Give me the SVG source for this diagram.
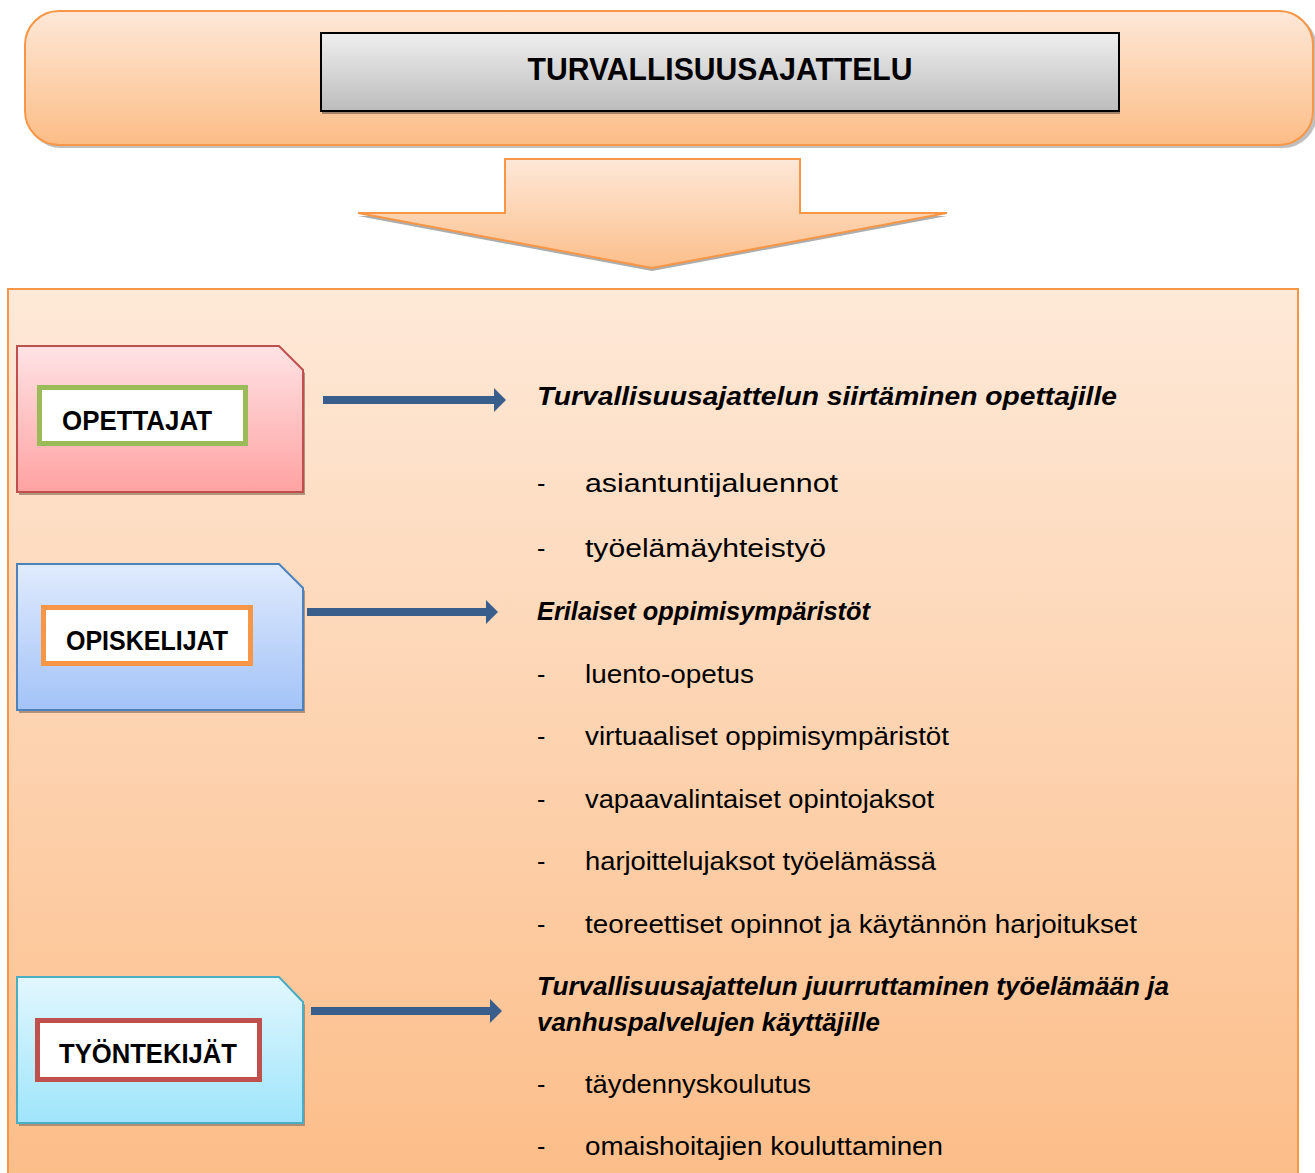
<svg xmlns="http://www.w3.org/2000/svg" width="1315" height="1173" viewBox="0 0 1315 1173">
<defs>
<linearGradient id="gOrange" x1="0" y1="0" x2="0" y2="1"><stop offset="0" stop-color="#fee8d8"/><stop offset="1" stop-color="#fcbd86"/></linearGradient>
<linearGradient id="gPanel" x1="0" y1="0" x2="0" y2="1"><stop offset="0" stop-color="#fee9d8"/><stop offset="1" stop-color="#fcbd88"/></linearGradient>
<linearGradient id="gArrow" x1="0" y1="0" x2="0" y2="1"><stop offset="0" stop-color="#fee8d8"/><stop offset="1" stop-color="#fcbf8b"/></linearGradient>
<linearGradient id="gGrey" x1="0" y1="0" x2="0" y2="1"><stop offset="0" stop-color="#efefef"/><stop offset="1" stop-color="#bcbcbc"/></linearGradient>
<linearGradient id="gRed" x1="0" y1="0" x2="0" y2="1"><stop offset="0" stop-color="#ffe3e5"/><stop offset="1" stop-color="#ffa2a2"/></linearGradient>
<linearGradient id="gBlue" x1="0" y1="0" x2="0" y2="1"><stop offset="0" stop-color="#e0ebfd"/><stop offset="1" stop-color="#a3c3f8"/></linearGradient>
<linearGradient id="gCyan" x1="0" y1="0" x2="0" y2="1"><stop offset="0" stop-color="#e2f7fe"/><stop offset="1" stop-color="#9fe5fb"/></linearGradient>
<marker id="ah" markerUnits="userSpaceOnUse" markerWidth="12" markerHeight="24" refX="0" refY="12" orient="auto"><path d="M0,0 L12,12 L0,24 Z" fill="#3a5e8c"/></marker>
</defs>
<style>
text{font-family:"Liberation Sans",Arial,sans-serif;fill:#000}
.b{font-weight:bold}
.bi{font-weight:bold;font-style:italic;font-size:25px}
.r{font-size:25px}
.sh{fill:#8a8a8a;opacity:0.55}
.conn{stroke:#3a5e8c;stroke-width:8;fill:none}
</style>
<g id="top">
<rect x="27" y="14" width="1290" height="134" rx="34" class="sh"/>
<rect x="25" y="11" width="1288" height="134" rx="34" fill="url(#gOrange)" stroke="#f79646" stroke-width="2"/>
</g>
<g id="title">
<rect x="322" y="36" width="798" height="78" fill="#a0846a"/>
<rect x="321" y="33" width="798" height="78" fill="url(#gGrey)" stroke="#000" stroke-width="2"/>
<text x="720" y="80" class="b" font-size="31" text-anchor="middle" textLength="385" lengthAdjust="spacingAndGlyphs">TURVALLISUUSAJATTELU</text>
</g>
<g id="downarrow">
<path d="M505,162 L800,162 L800,216 L947,216 L652,271 L358,216 L505,216 Z" fill="#999" opacity="0.8"/>
<path d="M505,159 L800,159 L800,213 L947,213 L652,268 L358,213 L505,213 Z" fill="url(#gArrow)" stroke="#f79646" stroke-width="2"/>
</g>
<g id="panel">
<rect x="8" y="289" width="1290" height="900" fill="url(#gPanel)" stroke="#f79646" stroke-width="2"/>
</g>
<g id="opettajat">
<path d="M19,349 L279,349 L305,373 L305,495 L19,495 Z" fill="#9a7f6a" opacity="0.8"/>
<path d="M17,346 L279,346 L303,370 L303,492 L17,492 Z" fill="url(#gRed)" stroke="#c0504d" stroke-width="2"/>
<rect x="39.5" y="387.5" width="206" height="56" fill="#fff" stroke="#9bbb59" stroke-width="5"/>
<text x="62" y="430" class="b" font-size="27" textLength="150" lengthAdjust="spacingAndGlyphs">OPETTAJAT</text>
</g>
<g id="opiskelijat">
<path d="M19,567 L279,567 L305,591 L305,713 L19,713 Z" fill="#9a7f6a" opacity="0.8"/>
<path d="M17,564 L279,564 L303,588 L303,710 L17,710 Z" fill="url(#gBlue)" stroke="#4f81bd" stroke-width="2"/>
<rect x="43.5" y="607.5" width="207" height="56" fill="#fff" stroke="#f79646" stroke-width="5"/>
<text x="66" y="650" class="b" font-size="27" textLength="162" lengthAdjust="spacingAndGlyphs">OPISKELIJAT</text>
</g>
<g id="tyontekijat">
<path d="M19,980 L279,980 L305,1005 L305,1126 L19,1126 Z" fill="#9a7f6a" opacity="0.8"/>
<path d="M17,977 L279,977 L303,1002 L303,1123 L17,1123 Z" fill="url(#gCyan)" stroke="#4bacc6" stroke-width="2"/>
<rect x="37.5" y="1020.5" width="222" height="59" fill="#fff" stroke="#c0504d" stroke-width="5"/>
<text x="59" y="1063" class="b" font-size="27" textLength="178" lengthAdjust="spacingAndGlyphs">TYÖNTEKIJÄT</text>
</g>
<g id="connectors">
<line x1="323" y1="400" x2="494" y2="400" class="conn" marker-end="url(#ah)"/>
<line x1="307" y1="612" x2="486" y2="612" class="conn" marker-end="url(#ah)"/>
<line x1="311" y1="1011" x2="490" y2="1011" class="conn" marker-end="url(#ah)"/>
</g>
<g id="texts">
<text x="537" y="405" class="bi" textLength="580" lengthAdjust="spacingAndGlyphs">Turvallisuusajattelun siirtäminen opettajille</text>
<text x="537" y="492" class="r">-</text><text x="585" y="492" class="r" textLength="253" lengthAdjust="spacingAndGlyphs">asiantuntijaluennot</text>
<text x="537" y="557" class="r">-</text><text x="585" y="557" class="r" textLength="241" lengthAdjust="spacingAndGlyphs">työelämäyhteistyö</text>
<text x="537" y="620" class="bi" textLength="333" lengthAdjust="spacingAndGlyphs">Erilaiset oppimisympäristöt</text>
<text x="537" y="683" class="r">-</text><text x="585" y="683" class="r" textLength="169" lengthAdjust="spacingAndGlyphs">luento-opetus</text>
<text x="537" y="745" class="r">-</text><text x="585" y="745" class="r" textLength="364" lengthAdjust="spacingAndGlyphs">virtuaaliset oppimisympäristöt</text>
<text x="537" y="808" class="r">-</text><text x="585" y="808" class="r" textLength="349" lengthAdjust="spacingAndGlyphs">vapaavalintaiset opintojaksot</text>
<text x="537" y="870" class="r">-</text><text x="585" y="870" class="r" textLength="351" lengthAdjust="spacingAndGlyphs">harjoittelujaksot työelämässä</text>
<text x="537" y="933" class="r">-</text><text x="585" y="933" class="r" textLength="552" lengthAdjust="spacingAndGlyphs">teoreettiset opinnot ja käytännön harjoitukset</text>
<text x="537" y="995" class="bi" textLength="632" lengthAdjust="spacingAndGlyphs">Turvallisuusajattelun juurruttaminen työelämään ja</text>
<text x="537" y="1031" class="bi" textLength="343" lengthAdjust="spacingAndGlyphs">vanhuspalvelujen käyttäjille</text>
<text x="537" y="1093" class="r">-</text><text x="585" y="1093" class="r" textLength="226" lengthAdjust="spacingAndGlyphs">täydennyskoulutus</text>
<text x="537" y="1155" class="r">-</text><text x="585" y="1155" class="r" textLength="358" lengthAdjust="spacingAndGlyphs">omaishoitajien kouluttaminen</text>
</g>
</svg>
